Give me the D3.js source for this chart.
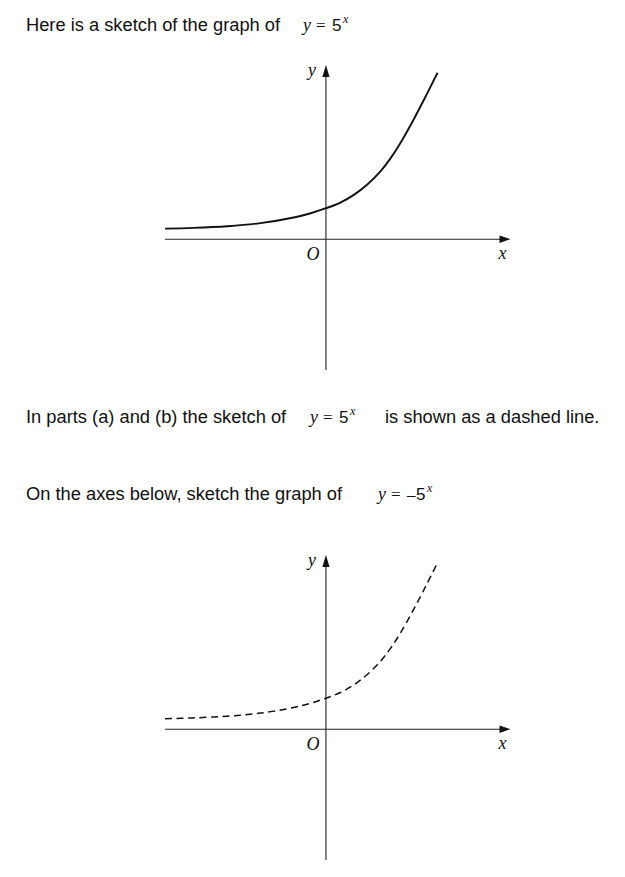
<!DOCTYPE html>
<html>
<head>
<meta charset="utf-8">
<script src="https://cdn.jsdelivr.net/npm/d3@7"></script>
<style>
  html, body { margin: 0; padding: 0; background: #fff; }
  svg { display: block; }
</style>
</head>
<body>
<div id="chart"></div>
<script>
// Curve (units: y-intercept = 1)
const curveX = [-1.5, -1.24, -0.92, -0.61, -0.30, -0.15, 0, 0.13, 0.26, 0.38, 0.51, 0.60, 0.69, 0.82, 0.94, 1.04];
const curveY = [0.34, 0.365, 0.42, 0.52, 0.70, 0.83, 1.0, 1.175, 1.43, 1.75, 2.20, 2.60, 3.08, 3.88, 4.68, 5.37];
const xDomain = [-1.5, 1.72];
const yDomain = [-4.22, 5.62];
const axisLabels = { x: "x", y: "y", origin: "O" };

const W = 625, H = 877;
const svg = d3.select("#chart").append("svg").attr("width", W).attr("height", H);
svg.append("rect").attr("width", W).attr("height", H).attr("fill", "#fff");

const sans = "'Liberation Sans', Arial, sans-serif";
const serif = "'Liberation Serif', 'Times New Roman', serif";

function prose(x, y, str) {
  svg.append("text").attr("x", x).attr("y", y)
    .attr("font-family", sans).attr("font-size", 18.3).attr("fill", "#111").text(str);
}
function formula(x, y, neg) {
  const g = svg.append("g").attr("font-family", serif).attr("fill", "#111");
  g.append("text").attr("x", x).attr("y", y).attr("font-size", 18).attr("font-style", "italic").text("y");
  g.append("text").attr("x", x + 13).attr("y", y).attr("font-size", 17).text("=");
  let off = x + 29;
  if (neg) {
    g.append("text").attr("x", off).attr("y", y).attr("font-size", 17).text("\u2013");
    off += 9;
  }
  g.append("text").attr("x", off).attr("y", y).attr("font-family", sans).attr("font-size", 17).text("5");
  g.append("text").attr("x", off + 11).attr("y", y - 8).attr("font-size", 12).attr("font-style", "italic").text("x");
}

prose(26, 31, "Here is a sketch of the graph of");
formula(303, 31, false);

prose(26, 423, "In parts (a) and (b) the sketch of");
formula(310, 423, false);
prose(385, 423, "is shown as a dashed line.");

prose(26, 500, "On the axes below, sketch the graph of");
formula(378, 500, true);

const pts = curveX.map((x, i) => ({ x, y: curveY[i] }));

function drawGraph(top, dashed) {
  const x = d3.scaleLinear().domain(xDomain).range([165, 510.5]);
  const y = d3.scaleLinear().domain(yDomain).range([top + 305, top]);
  const g = svg.append("g");
  const axisColor = "#222";
  // x axis
  g.append("line").attr("x1", x(xDomain[0])).attr("x2", x(xDomain[1]) - 8)
    .attr("y1", y(0)).attr("y2", y(0)).attr("stroke", axisColor).attr("stroke-width", 1.1);
  g.append("path")
    .attr("d", `M${x(xDomain[1])},${y(0)} L${x(xDomain[1]) - 11},${y(0) - 3.8} L${x(xDomain[1]) - 11},${y(0) + 3.8} Z`)
    .attr("fill", "#111");
  // y axis
  g.append("line").attr("x1", x(0)).attr("x2", x(0))
    .attr("y1", y(yDomain[0])).attr("y2", y(yDomain[1]) + 8).attr("stroke", axisColor).attr("stroke-width", 1.1);
  g.append("path")
    .attr("d", `M${x(0)},${y(yDomain[1])} L${x(0) - 3.6},${y(yDomain[1]) + 12} L${x(0) + 3.6},${y(yDomain[1]) + 12} Z`)
    .attr("fill", "#111");
  // labels
  g.append("text").attr("x", x(0) - 14).attr("y", y(yDomain[1]) + 11)
    .attr("text-anchor", "middle").attr("font-family", serif).attr("font-style", "italic")
    .attr("font-size", 18).attr("fill", "#111").text(axisLabels.y);
  g.append("text").attr("x", x(0) - 13).attr("y", y(0) + 21)
    .attr("text-anchor", "middle").attr("font-family", serif).attr("font-style", "italic")
    .attr("font-size", 18).attr("fill", "#111").text(axisLabels.origin);
  g.append("text").attr("x", x(xDomain[1]) - 8).attr("y", y(0) + 20)
    .attr("text-anchor", "middle").attr("font-family", serif).attr("font-style", "italic")
    .attr("font-size", 18).attr("fill", "#111").text(axisLabels.x);
  // curve
  const line = d3.line().x(d => x(d.x)).y(d => y(d.y)).curve(d3.curveCatmullRom.alpha(0.5));
  const p = g.append("path").datum(pts).attr("d", line).attr("fill", "none")
    .attr("stroke", "#111").attr("stroke-width", dashed ? 1.5 : 1.9);
  if (dashed) p.attr("stroke-dasharray", "7,4.5");
}

drawGraph(65, false);
drawGraph(555, true);
</script>
</body>
</html>
